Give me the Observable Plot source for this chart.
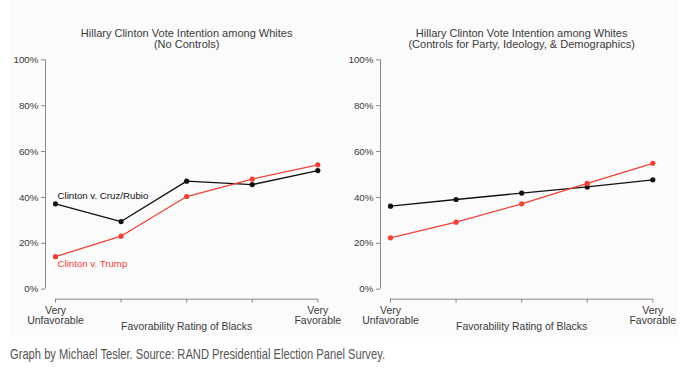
<!DOCTYPE html>
<html>
<head>
<meta charset="utf-8">
<script src="https://cdn.jsdelivr.net/npm/d3@7"></script>
<script src="https://cdn.jsdelivr.net/npm/@observablehq/plot@0.6"></script>
<style>
  html, body { margin: 0; padding: 0; background: #ffffff; }
  #wrap { position: relative; width: 691px; height: 382px; overflow: hidden; }
  #bg { position: absolute; left: 10px; top: 0; width: 668px; height: 337px; background: #fbfbfb; }
  .panel { position: absolute; top: 0; }
  #caption { position: absolute; left: 10px; top: 346px; font-family: "Liberation Sans", Arial, sans-serif; font-size: 14.5px; color: #555; white-space: nowrap; transform-origin: 0 50%; }
</style>
</head>
<body>
<div id="wrap">
  <div id="bg"></div>
  <div id="left" class="panel" style="left:0px"></div>
  <div id="right" class="panel" style="left:345px"></div>
  <div id="caption">Graph by Michael Tesler. Source: RAND Presidential Election Panel Survey.</div>
</div>
<script>
// ---- data ----
const levels = [1, 2, 3, 4, 5];
const tickLabels = ["Very\nUnfavorable", "", "", "", "Very\nFavorable"];
const yTicks = [0, 20, 40, 60, 80, 100];
const noControlsCruz = [37.2, 29.5, 47.1, 45.6, 51.7];
const noControlsTrump = [14.2, 23.1, 40.4, 48.0, 54.2];
const controlsCruz = [36.2, 39.1, 41.9, 44.6, 47.7];
const controlsTrump = [22.4, 29.2, 37.2, 46.1, 54.9];
const titleLine1 = "Hillary Clinton Vote Intention among Whites";
const leftSubtitle = "(No Controls)";
const rightSubtitle = "(Controls for Party, Ideology, & Demographics)";
const xTitle = "Favorability Rating of Blacks";
const cruzLabel = "Clinton v. Cruz/Rubio";
const trumpLabel = "Clinton v. Trump";

const BLACK = "#111111";
const RED = "#ef4136";
const AXIS = "#8a8a8a";
const TEXT = "#3a3a3a";
const FONT = "Liberation Sans, Arial, Helvetica, sans-serif";

function rows(values) { return levels.map((x, i) => ({x, y: values[i]})); }

function panel({width, marginLeft, marginRight, subtitle, cruz, trump, labels}) {
  const c = rows(cruz), t = rows(trump);
  const marks = [
    Plot.ruleX([1], {y1: 0, y2: 100, dx: -10, stroke: AXIS}),
    Plot.ruleY([0], {x1: 1, x2: 5, dy: 10, stroke: AXIS}),
    Plot.axisY({ticks: yTicks, tickFormat: d => d + "%", label: null, dx: -10, tickSize: 4, tickPadding: 3, fontSize: 9.8, color: AXIS, fill: TEXT}),
    Plot.axisX({ticks: levels, tickFormat: d => tickLabels[levels.indexOf(d)], label: null, dy: 10, tickSize: 4, tickPadding: 3, fontSize: 10.5, lineHeight: 1.0, color: AXIS, fill: TEXT}),
    Plot.text([titleLine1 + "\n" + subtitle], {text: d => d, frameAnchor: "top", lineAnchor: "middle", dy: -20.8, fontSize: 11, lineHeight: 1.0, fill: TEXT}),
    Plot.text([xTitle], {text: d => d, frameAnchor: "bottom", lineAnchor: "middle", dy: 37.7, fontSize: 10.4, fill: TEXT}),
    Plot.line(c, {x: "x", y: "y", stroke: BLACK, strokeWidth: 1.3}),
    Plot.dot(c, {x: "x", y: "y", r: 2.6, fill: BLACK}),
    Plot.line(t, {x: "x", y: "y", stroke: RED, strokeWidth: 1.3}),
    Plot.dot(t, {x: "x", y: "y", r: 2.6, fill: RED})
  ];
  if (labels) {
    marks.push(Plot.text([c[0]], {x: "x", y: "y", text: () => cruzLabel, textAnchor: "start", dx: 2, dy: -8, fontSize: 9.7, fill: BLACK}));
    marks.push(Plot.text([t[0]], {x: "x", y: "y", text: () => trumpLabel, textAnchor: "start", dx: 2, dy: 7.5, fontSize: 9.7, fill: RED}));
  }
  return Plot.plot({
    width, height: 340,
    marginLeft, marginRight, marginTop: 59.3, marginBottom: 51.3,
    style: {fontFamily: FONT, background: "transparent", overflow: "visible"},
    x: {domain: [1, 5]},
    y: {domain: [0, 100]},
    marks
  });
}

document.getElementById("left").append(panel({
  width: 345, marginLeft: 55, marginRight: 27.7,
  subtitle: leftSubtitle, cruz: noControlsCruz, trump: noControlsTrump, labels: true
}));
document.getElementById("right").append(panel({
  width: 346, marginLeft: 45, marginRight: 38.7,
  subtitle: rightSubtitle, cruz: controlsCruz, trump: controlsTrump, labels: false
}));

// condense caption to match the narrow typeface of the original
const cap = document.getElementById("caption");
const w = cap.getBoundingClientRect().width;
cap.style.transform = `scaleX(${375 / w})`;
</script>
</body>
</html>
